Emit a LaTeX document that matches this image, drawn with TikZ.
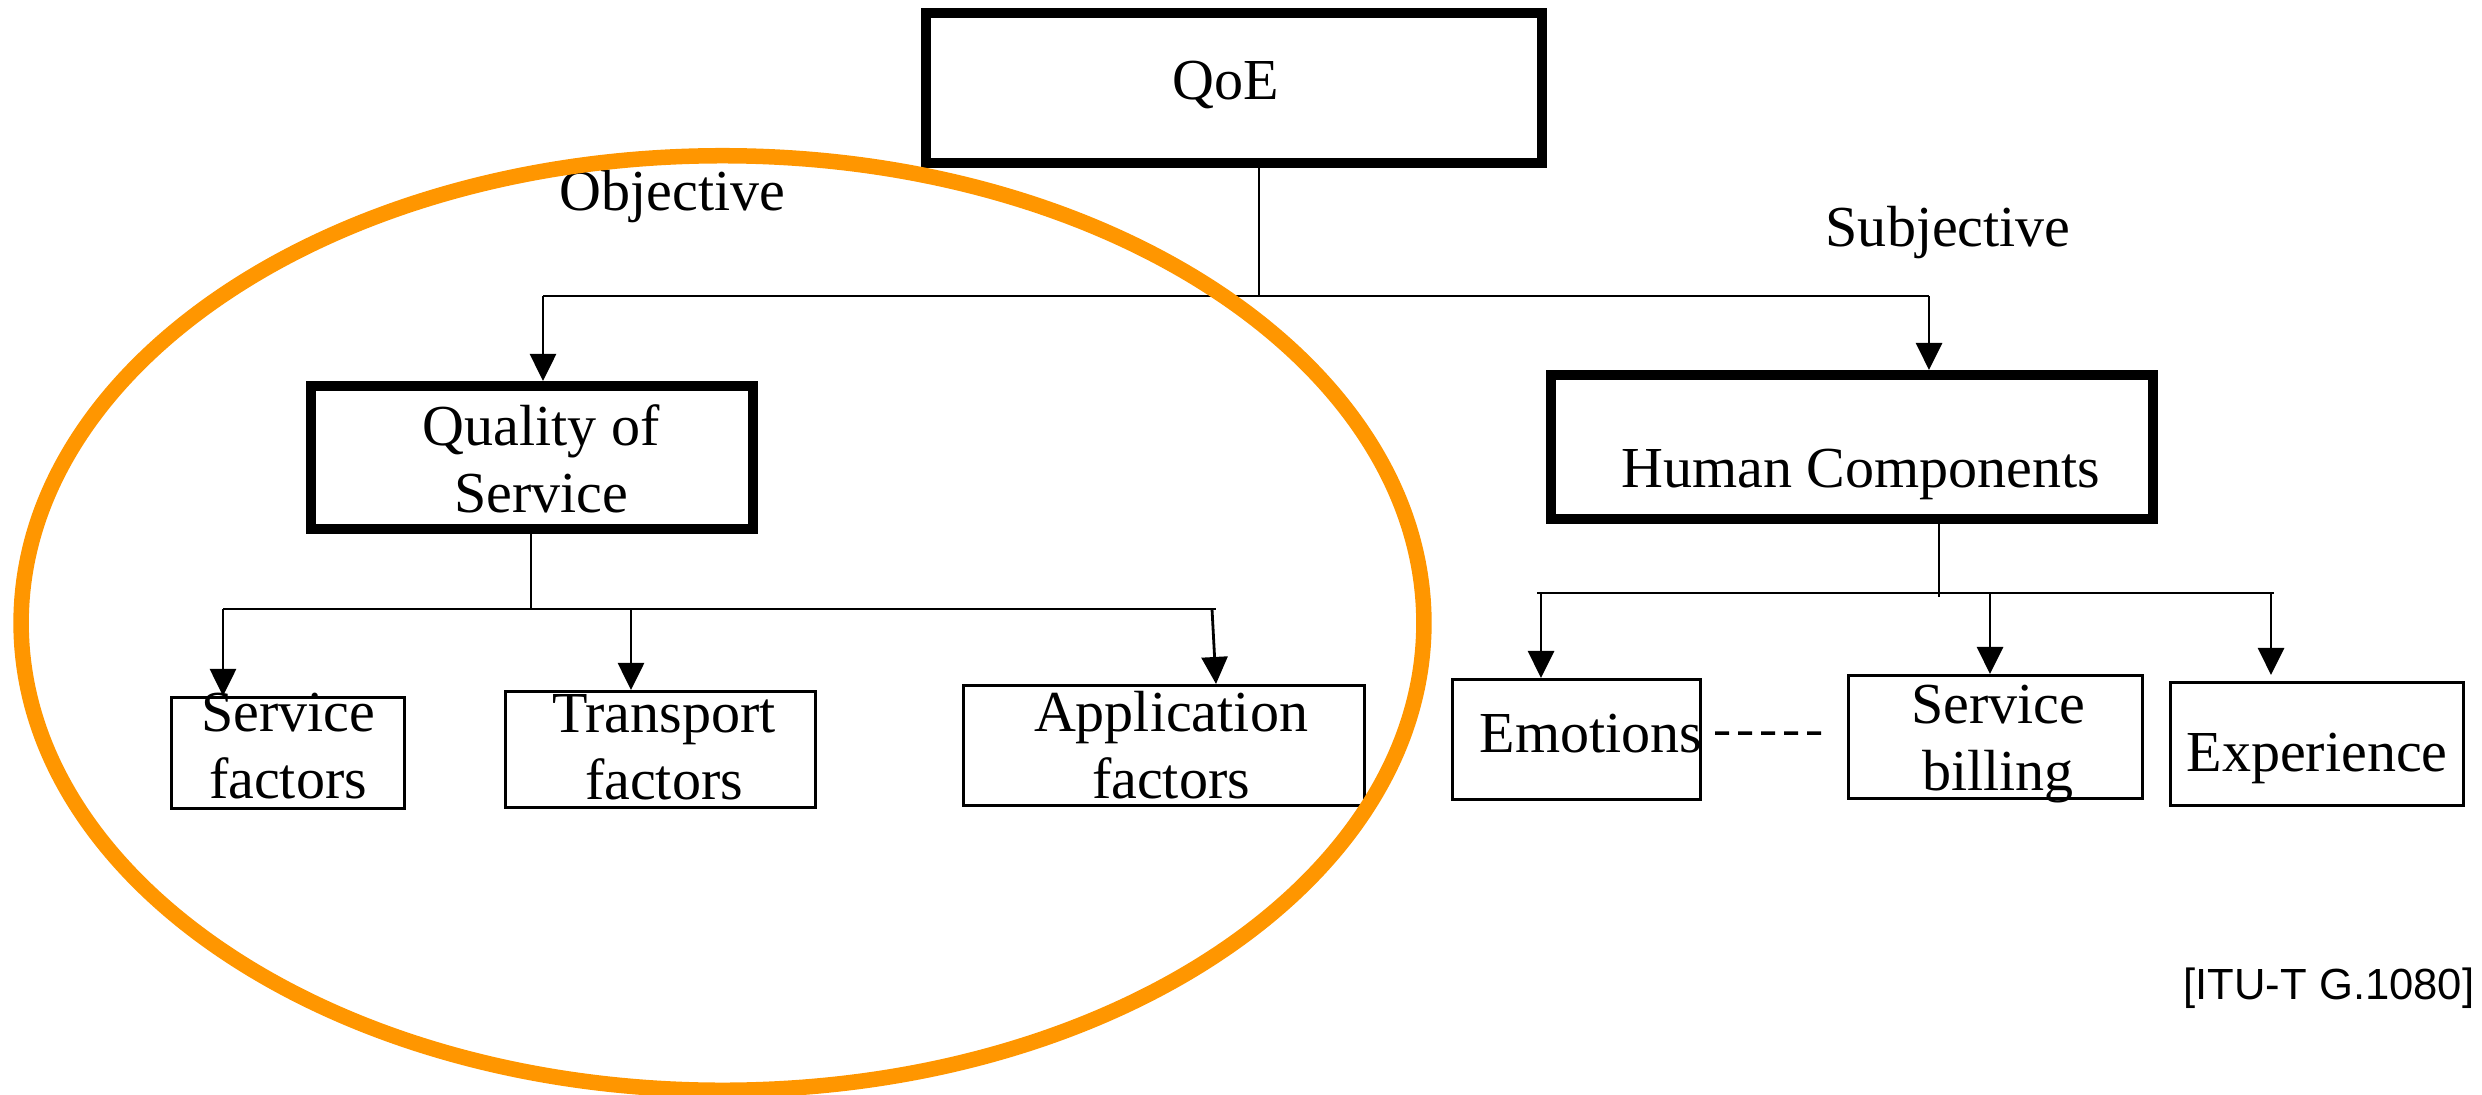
\documentclass[tikz,border=0pt]{standalone}
\usepackage{fontspec}
\setmainfont{Liberation Serif}
\newfontfamily\itufont{Liberation Sans}
\usetikzlibrary{arrows.meta}
\definecolor{qorange}{RGB}{255,150,0}
\newcommand{\boxtxt}[2]{\makebox[0pt]{\hspace*{#1}#2}}
\newcommand{\twolines}[2]{\begin{tabular}[t]{@{}c@{}}#1\\#2\end{tabular}}
\begin{document}
\begin{tikzpicture}[x=0.01cm, y=-0.01cm, font=\fontsize{16.5}{18.8}\selectfont,
  thickbox/.style={draw, line width=0.105cm, inner sep=0pt},
  thinbox/.style={draw, line width=0.03cm, inner sep=0pt},
  conn/.style={line width=0.028cm},
  arr/.style={conn, -{Triangle[length=0.27cm,width=0.26cm]}},
  dashline/.style={line width=0.035cm, dash pattern=on 0.14cm off 0.09cm},
  ring/.style={draw=qorange, line width=0.155cm},
  lbl/.style={anchor=base west, inner sep=0pt}]
\useasboundingbox (0,0) rectangle (2482,1094);

% boxes
\node[thickbox, minimum width=6.155cm, minimum height=1.495cm, text height=0.35cm, text depth=0.13cm] (qoe) at (1234,88) {\boxtxt{-0.16cm}{QoE}};
\node[thickbox, minimum width=4.415cm, minimum height=1.425cm, text height=0.4cm, text depth=0.63cm] (qos) at (532,457.5) {\boxtxt{0.18cm}{\twolines{Quality of}{Service}}};
\node[thickbox, minimum width=6.015cm, minimum height=1.435cm, text height=0.9cm, text depth=0.1cm] (hc) at (1852,447) {\boxtxt{0.18cm}{Human Components}};

\node[thinbox, minimum width=2.33cm, minimum height=1.11cm, text height=0.3cm, text depth=0.72cm] (sf) at (288,753) {\twolines{Service}{factors}};
\node[thinbox, minimum width=3.10cm, minimum height=1.16cm, text height=0.3cm, text depth=0.63cm] (tf) at (660.5,749.5) {\boxtxt{0.07cm}{\twolines{Transport}{factors}}};
\node[thinbox, minimum width=4.01cm, minimum height=1.20cm, text height=0.3cm, text depth=0.57cm] (af) at (1164,745.5) {\boxtxt{0.14cm}{\twolines{Application}{factors}}};
\node[thinbox, minimum width=2.48cm, minimum height=1.20cm, text height=0.35cm, text depth=0.1cm] (em) at (1576.5,739.5) {\boxtxt{0.29cm}{Emotions}};
\node[thinbox, minimum width=2.94cm, minimum height=1.23cm, text height=0.3cm, text depth=0.56cm] (sb) at (1995.5,737) {\boxtxt{0.05cm}{\twolines{Service}{billing}}};
\node[thinbox, minimum width=2.93cm, minimum height=1.23cm, text height=0.64cm, text depth=0.1cm] (ex) at (2317,744) {Experience};

% labels
\node[lbl] (obj) at (559,211) {Objective};
\node[lbl] (subj) at (1825,247) {Subjective};
\node[anchor=base east, inner sep=0pt, font=\itufont\fontsize{12.4}{14}\selectfont] (src) at (2475,999) {[ITU-T G.1080]};

% top level connectors
\coordinate (qj) at (1259,296);
\coordinate (ql) at (543,296);
\coordinate (qr) at (1929,296);
\draw[conn] (qj |- qoe.south) -- (qj);
\draw[conn] (ql) -- (qr);
\draw[arr] (ql) -- (ql |- qos.north);
\draw[arr] (qr) -- (qr |- hc.north);

% QoS children
\coordinate (sj) at (531,609);
\coordinate (sl) at (223,609);
\coordinate (sm) at (631,609);
\coordinate (sr) at (1216,609);
\draw[conn] (sj |- qos.south) -- (sj);
\draw[conn] (sl) -- (sr);
\draw[arr] (sl) -- (sl |- sf.north);
\draw[arr] (sm) -- (sm |- tf.north);
\draw[arr] ([xshift=-0.04cm]sr) -- (sr |- af.north);

% Human components children
\coordinate (hj) at (1939,597);
\coordinate (hl) at (1537,593);
\coordinate (hr) at (2274,593);
\coordinate (h1) at (1541,593);
\coordinate (h2) at (1990,593);
\coordinate (h3) at (2271,593);
\draw[conn] (hj |- hc.south) -- (hj);
\draw[conn] (hl) -- (hr);
\draw[arr] (h1) -- (h1 |- em.north);
\draw[arr] (h2) -- (h2 |- sb.north);
\draw[arr] (h3) -- ([yshift=0.06cm]h3 |- ex.north);

% dashed link
\draw[dashline] ([xshift=0.13cm,yshift=0.065cm]em.east) -- ([xshift=-0.17cm,yshift=0.04cm]sb.west);

% orange ellipse
\draw[ring] (722.5,623) ellipse [x radius=7.01cm, y radius=4.67cm];
\end{tikzpicture}
\end{document}
